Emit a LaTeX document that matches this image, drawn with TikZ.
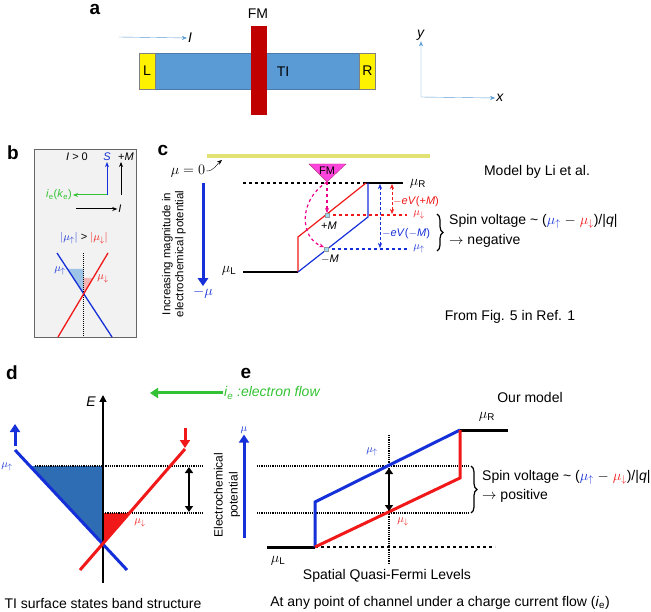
\documentclass[tikz,border=0pt]{standalone}
\usepackage{fontspec}
\setmainfont{Liberation Sans}
\usetikzlibrary{arrows.meta,decorations.pathreplacing}

\definecolor{tiblue}{HTML}{5B9BD5}
\definecolor{fmred}{HTML}{C00000}
\definecolor{spinblue}{HTML}{1530D8}
\definecolor{spinred}{HTML}{F01818}
\definecolor{fillblue}{HTML}{2E6DB4}
\definecolor{paleblue}{HTML}{9DC3E6}
\definecolor{palered}{HTML}{F2B4B4}
\definecolor{flowgreen}{HTML}{33C233}
\definecolor{zeroline}{HTML}{E2E274}
\definecolor{fmpink}{HTML}{FF44DD}
\definecolor{boxgray}{HTML}{F2F2F2}

\newcommand{\muup}{\mu_{\uparrow}}
\newcommand{\mudn}{\mu_{\downarrow}}

\begin{document}
\begin{tikzpicture}[x=1pt, y=-1pt,
  font=\fontsize{14}{16}\selectfont,
  every node/.style={inner sep=1pt},
  panel/.style={font=\fontsize{19}{20}\selectfont\bfseries},
  smalltxt/.style={font=\fontsize{11}{13}\selectfont},
  sidetxt/.style={rotate=90, align=center, font=\fontsize{11.5}{13}\selectfont},
  pad/.style={draw=black!50, fill=yellow, minimum width=16pt, minimum height=36pt, inner sep=0pt},
  lvl/.style={line width=3pt},
  dots/.style={densely dotted, line width=1.2pt},
  bigarrow/.style={line width=3pt, -{Triangle[length=8pt,width=10pt]}},
  thinarrow/.style={-{Stealth[length=5pt,width=4pt]}},
  dblarrow/.style={line width=2pt, {Triangle[length=6pt,width=8pt]}-{Triangle[length=6pt,width=8pt]}}
]
\useasboundingbox (0,0) rectangle (651,612);

% a: device
\node[panel] (la) at (95,9) {a};
\node[draw=tiblue!80!black, fill=tiblue, minimum width=236pt, minimum height=36pt, inner sep=0pt] (tibar) at (257,71) {};
\node[pad] (padL) at (147,71) {L};
\node[pad] (padR) at (367.5,71) {R};
\node[fill=fmred, minimum width=16pt, minimum height=89pt, inner sep=0pt] (fmbar) at (259,70.5) {};
\node (fmlbl) at (258,14) {FM};
\node (tilbl) at (283,72) {TI};
\coordinate (istart) at (119,37);
\node (ilbl) at (190,38) {\textit{I}};
\draw[tiblue, thinarrow] (istart) -- (ilbl.west);
\coordinate (org) at (421,97);
\node (ay) at (421,35) {\textit{y}};
\node (ax) at (500,98) {\textit{x}};
\draw[tiblue, {Stealth[length=5pt,width=4pt]}-{Stealth[length=5pt,width=4pt]}] (ay.south) -- (org) -- (ax.west);

% b: spin locking
\node[panel] (lb) at (13,153) {b};
\node[draw=black!60, fill=boxgray, minimum width=102pt, minimum height=188pt, inner sep=0pt, anchor=north west] (bbox) at (34,149) {};
\node[smalltxt] (bI) at (77,157) {\textit{I} > 0};
\node[smalltxt, spinblue] (bS) at (107,157) {\textit{S}};
\node[smalltxt] (bM) at (126,157) {+\textit{M}};
\coordinate (bO) at (107,195);
\coordinate (bMb) at (121,195);
\node[smalltxt, flowgreen] (bie) at (59,195) {\textit{i}\textsubscript{e}(\textit{k}\textsubscript{e})};
\draw[flowgreen, line width=1pt, thinarrow] (bO) -- (bie.east);
\draw[spinblue, line width=1pt, thinarrow] (bO) -- (bS.south);
\draw[line width=1pt, thinarrow] (bMb) -- (bMb |- bM.south);
\coordinate (bIs) at (76,209);
\node[smalltxt] (bIl) at (120,209) {\textit{I}};
\draw[line width=1pt, thinarrow] (bIs) -- (bIl.west);
\node[smalltxt] (bcmp) at (84,238) {\textcolor{spinblue}{$|\muup|$} > \textcolor{spinred}{$|\mudn|$}};
\fill[paleblue] (83.5,269) -- (67.5,269) -- (83.5,294) -- cycle;
\fill[palered] (83.5,278) -- (93,278) -- (83.5,294) -- cycle;
\draw[dots, line width=1pt] (83.5,253) -- (83.5,337);
\draw[spinblue, line width=1.3pt] (57,253) -- (112,337);
\draw[spinred, line width=1.3pt] (108,253) -- (58,337);
\node[smalltxt, spinblue] (bup) at (60,271) {$\muup$};
\node[smalltxt, spinred] (bdn) at (103,279) {$\mudn$};

% c: model by Li et al.
\node[panel] (lc) at (163,150) {c};
\draw[zeroline, line width=3.5pt] (207,156) -- (430,156);
\coordinate (yl) at (222,160);
\node (mu0) at (188,171) {$\mu=0$};
\draw[thinarrow] (mu0.east) to[out=0, in=220] (yl);
\coordinate (cdown) at (203,183);
\node[spinblue] (mmu) at (203,293) {$-\mu$};
\draw[spinblue, bigarrow] (cdown) -- (mmu.north);
\node[sidetxt] (incr) at (174,254) {Increasing magnitude in\\electrochemical potential};
\coordinate (cR) at (364,183);
\draw[dashed, line width=1.2pt] (243,183) -- (cR);
\draw[line width=1.2pt] (cR) -- (403,183);
\node (cmuR) at (418,184) {$\mu_{\rm R}$};
\draw[line width=1.2pt] (243,272) -- (298,272);
\node (cmuL) at (229,271) {$\mu_{\rm L}$};
\draw[spinred, line width=1.2pt] (298,272) -- (298,237) -- (366,183);
\draw[spinblue, line width=1.2pt] (368,183) -- (368,217) -- (298,272);
\draw[spinred, dashed, line width=1.2pt] (327,215) -- (407,215);
\draw[spinblue, dashed, line width=1.2pt] (326,249) -- (407,249);
\node[smalltxt, spinred] (cdn) at (419,215) {$\mudn$};
\node[smalltxt, spinblue] (cup) at (419,249) {$\muup$};
\fill[fmpink, draw=magenta!70!black] (309,164) -- (346,164) -- (327,182) -- cycle;
\coordinate (fmtip) at (327,182);
\node[smalltxt] (fmc) at (327,171) {FM};
\node[fill=cyan!40, draw=black!40, minimum size=3.5pt, inner sep=0pt] (pM) at (327,215) {};
\node[fill=cyan!40, draw=black!40, minimum size=3.5pt, inner sep=0pt] (mM) at (326,249) {};
\draw[magenta, dashed, line width=1.2pt, thinarrow] (fmtip) -- (pM.north);
\draw[magenta, dashed, line width=1.2pt, thinarrow] (fmtip) .. controls (298,200) and (300,238) .. (mM.north west);
\node[smalltxt] (cpm) at (329,226) {+\textit{M}};
\node[smalltxt] (cmm) at (330,259) {$-$\textit{M}};
\coordinate (cr1) at (392,184);
\coordinate (cr2) at (392,214);
\draw[spinred, densely dashed, {Stealth[length=5pt,width=4pt]}-{Stealth[length=5pt,width=4pt]}] (cr1) -- (cr2);
\node[smalltxt, spinred] (ceVp) at (416,202) {$-$\textit{eV}(+\textit{M})};
\coordinate (cb1) at (380,184);
\coordinate (cb2) at (380,248);
\draw[spinblue, densely dashed, {Stealth[length=5pt,width=4pt]}-{Stealth[length=5pt,width=4pt]}] (cb1) -- (cb2);
\node[smalltxt, spinblue] (ceVm) at (406,234) {$-$\textit{eV}($-$\textit{M})};
\draw[line width=1.2pt, decorate, decoration={brace, amplitude=6pt}] (437,214) -- (437,251);
\node[anchor=west] (cspin) at (448,221) {Spin voltage \textasciitilde{} (\textcolor{spinblue}{$\muup$} $-$ \textcolor{spinred}{$\mudn$})/|\textit{q}|};
\node[anchor=west] (cneg) at (448,241) {$\rightarrow$ negative};
\node (clit) at (537,172) {Model by Li et al.};
\node (cref) at (510,317) {From Fig. 5 in Ref. 1};

% d: band structure
\node[panel] (ld) at (12,373) {d};
\fill[fillblue] (30,466) -- (103,466) -- (103,544) -- cycle;
\fill[spinred] (103,513) -- (129.5,513) -- (103,544) -- cycle;
\coordinate (dE0) at (103,583);
\coordinate (dEt) at (103,395);
\draw[line width=1.5pt, -{Triangle[length=7pt,width=7pt]}] (dE0) -- (dEt);
\node (dE) at (91,402) {\textit{E}};
\draw[dots] (35,466) -- (203,466);
\draw[dots] (103,513) -- (203,513);
\draw[spinblue, line width=3pt] (15,450) -- (127,570);
\draw[spinred, line width=3pt] (185,449) -- (80,570);
\coordinate (dsu1) at (15,446);
\coordinate (dsu2) at (15,424);
\draw[spinblue, bigarrow] (dsu1) -- (dsu2);
\coordinate (dsd1) at (185,428);
\coordinate (dsd2) at (185,448);
\draw[spinred, bigarrow] (dsd1) -- (dsd2);
\coordinate (dd1) at (189,467);
\coordinate (dd2) at (189,512);
\draw[dblarrow] (dd1) -- (dd2);
\node[smalltxt, spinblue] (dup) at (7,467) {$\muup$};
\node[smalltxt, spinred] (ddn) at (140,523) {$\mudn$};
\node (dcap) at (103,603) {TI surface states band structure};
\node[flowgreen, anchor=west] (ie) at (223,393) {\textit{i\textsubscript{e}} \textit{:electron flow}};
\coordinate (iet) at (150,393);
\draw[flowgreen, bigarrow] (ie.west) -- (iet);

% e: our model
\node[panel] (le) at (246,373) {e};
\node (eown) at (530,397) {Our model};
\node (emuR) at (487,417) {$\mu_{\rm R}$};
\draw[lvl] (460,430) -- (508,430);
\draw[lvl] (267,547) -- (315,547);
\draw[dashed, line width=1.2pt] (315,547) -- (495,547);
\node (emuL) at (278,561) {$\mu_{\rm L}$};
\draw[dots] (389,435) -- (389,563);
\draw[dots] (257,466) -- (470,466);
\draw[dots] (257,513) -- (470,513);
\draw[spinblue, lvl] (315,547) -- (315,502) -- (460,430);
\draw[spinred, lvl] (315,547) -- (460,478) -- (460,430);
\coordinate (ed1) at (389,468);
\coordinate (ed2) at (389,511);
\draw[dblarrow] (ed1) -- (ed2);
\node[smalltxt, spinblue] (eup) at (372,452) {$\muup$};
\node[smalltxt, spinred] (edn) at (403,522) {$\mudn$};
\draw[line width=1.2pt, decorate, decoration={brace, amplitude=6pt}] (471,466) -- (471,513);
\node[anchor=west] (espin) at (481,477) {Spin voltage \textasciitilde{} (\textcolor{spinblue}{$\muup$} $-$ \textcolor{spinred}{$\mudn$})/|\textit{q}|};
\node[anchor=west] (epos) at (481,496) {$\rightarrow$ positive};
\coordinate (emu0) at (244,538);
\node[smalltxt, spinblue] (emu) at (244,430) {$\mu$};
\draw[spinblue, bigarrow] (emu0) -- (emu.south);
\node[sidetxt, font=\fontsize{12}{15}\selectfont] (epot) at (227,495) {Electrochemical\\potential};
\node (ecap) at (387,576) {Spatial Quasi-Fermi Levels};
\node (efoot) at (440,603) {At any point of channel under a charge current flow (\textit{i}\textsubscript{e})};
\end{tikzpicture}
\end{document}
